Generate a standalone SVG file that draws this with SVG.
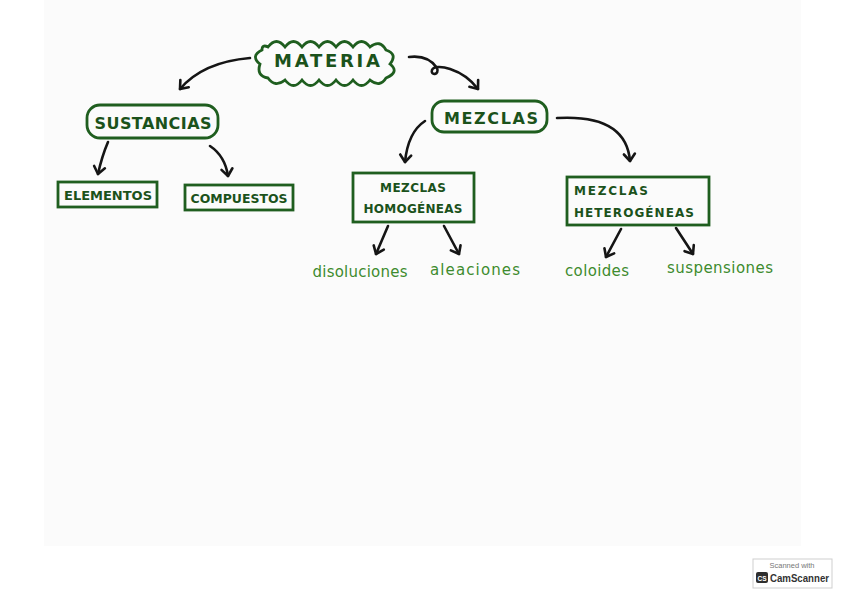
<svg xmlns="http://www.w3.org/2000/svg" width="848" height="599" viewBox="0 0 848 599">
<style>
.box{fill:none;stroke:#1f5e1f;stroke-width:2.8}
.t{font-family:"DejaVu Sans",sans-serif;fill:#1b521b;text-anchor:middle;font-weight:bold}
.leaf{font-family:"DejaVu Sans",sans-serif;fill:#3e8b2e;text-anchor:middle;font-size:15px}
.arr{fill:none;stroke:#151515;stroke-width:2.6;stroke-linecap:round;marker-end:url(#ah)}
</style>
<defs>
<marker id="ah" markerUnits="userSpaceOnUse" markerWidth="20" markerHeight="20" refX="0" refY="0" viewBox="-10 -10 20 20" orient="auto" overflow="visible">
<path d="M -7 -5.5 L 0 0 L -7 5.5" fill="none" stroke="#151515" stroke-width="2.6" stroke-linecap="round" stroke-linejoin="round"/>
</marker>
</defs>
<rect x="0" y="0" width="848" height="599" fill="#ffffff"/>
<rect x="44" y="0" width="757" height="546" fill="#fbfbfb"/>

<g id="materia">
<path class="box" stroke-width="2.8" d="M 268 47 q 8.5 -11 17 0 q 8.5 -11 17 0 q 8.5 -11 17 0 q 8.5 -11 17 0 q 8.5 -11 17 0 q 8.5 -11 17 0 q 10 -8 16 3 q 12 4 4 14 q 10 8 -4 14 q -6 10 -16 2 q -8.5 11 -17 0 q -8.5 11 -17 0 q -8.5 11 -17 0 q -8.5 11 -17 0 q -8.5 11 -17 0 q -10 8 -17 -2 q -12 -2 -8 -14 q -10 -8 2 -14 q 0 -6 6 -3 z"/>
<text class="t" x="327" y="67" font-size="18" textLength="106" lengthAdjust="spacing">MATERIA</text>
</g>
<g id="sustancias">
<rect class="box" x="87" y="105" width="131" height="33" rx="13"/>
<text class="t" x="153" y="129" font-size="16" textLength="117" lengthAdjust="spacing">SUSTANCIAS</text>
</g>
<g id="mezclas">
<rect class="box" x="432" y="101" width="115" height="31" rx="12"/>
<text class="t" x="491" y="124" font-size="16" textLength="94" lengthAdjust="spacing">MEZCLAS</text>
</g>
<g id="elementos">
<rect class="box" x="58" y="182" width="99" height="25"/>
<text class="t" x="108" y="200" font-size="12.5" textLength="88" lengthAdjust="spacingAndGlyphs">ELEMENTOS</text>
</g>
<g id="compuestos">
<rect class="box" x="185" y="185" width="108" height="25"/>
<text class="t" x="239" y="203" font-size="12.5" textLength="97" lengthAdjust="spacingAndGlyphs">COMPUESTOS</text>
</g>
<g id="homogeneas">
<rect class="box" x="353" y="173" width="121" height="49"/>
<text class="t" x="413" y="192" font-size="12" textLength="66" lengthAdjust="spacing">MEZCLAS</text>
<text class="t" x="413" y="213" font-size="12" textLength="99" lengthAdjust="spacing">HOMOGÉNEAS</text>
</g>
<g id="heterogeneas">
<rect class="box" x="567" y="177" width="142" height="48"/>
<text class="t" x="611" y="195" font-size="12" textLength="74" lengthAdjust="spacing">MEZCLAS</text>
<text class="t" x="634" y="217" font-size="12" textLength="120" lengthAdjust="spacing">HETEROGÉNEAS</text>
</g>
<g id="disoluciones"><text class="leaf" x="360" y="277" textLength="95" lengthAdjust="spacing">disoluciones</text></g>
<g id="aleaciones"><text class="leaf" x="475" y="275" textLength="90" lengthAdjust="spacing">aleaciones</text></g>
<g id="coloides"><text class="leaf" x="597" y="276" textLength="64" lengthAdjust="spacing">coloides</text></g>
<g id="suspensiones"><text class="leaf" x="720" y="273" textLength="106" lengthAdjust="spacing">suspensiones</text></g>

<g id="connectors">
<path class="arr" d="M 250 58 Q 203 62 180 89"/>
<path class="arr" d="M 409 57 C 425 55 433 62 437 68 C 440 75 430 76 432 70 C 435 63 462 68 478 89"/>
<path class="arr" d="M 108 142 Q 102 156 98 174"/>
<path class="arr" d="M 210 146 Q 225 156 228 176"/>
<path class="arr" d="M 425 121 Q 408 132 405 162"/>
<path class="arr" d="M 557 118 Q 626 114 630 161"/>
<path class="arr" d="M 388 226 L 376 254"/>
<path class="arr" d="M 444 226 L 459 254"/>
<path class="arr" d="M 621 229 L 606 257"/>
<path class="arr" d="M 676 228 L 693 254"/>
</g>

<g id="camscanner">
<rect x="753" y="559" width="79" height="29" fill="#ffffff" stroke="#cfcfcf" stroke-width="1"/>
<text x="792" y="568" font-family="Liberation Sans, sans-serif" font-size="7.5" fill="#777" text-anchor="middle">Scanned with</text>
<rect x="756" y="572" width="12" height="11" rx="2" fill="#2e2e2e"/>
<text x="762" y="580.5" font-family="Liberation Sans, sans-serif" font-size="6.5" font-weight="bold" fill="#ffffff" text-anchor="middle">CS</text>
<text x="770" y="582" font-family="Liberation Sans, sans-serif" font-size="10" font-weight="bold" fill="#333" textLength="59" lengthAdjust="spacingAndGlyphs">CamScanner</text>
</g>
</svg>
